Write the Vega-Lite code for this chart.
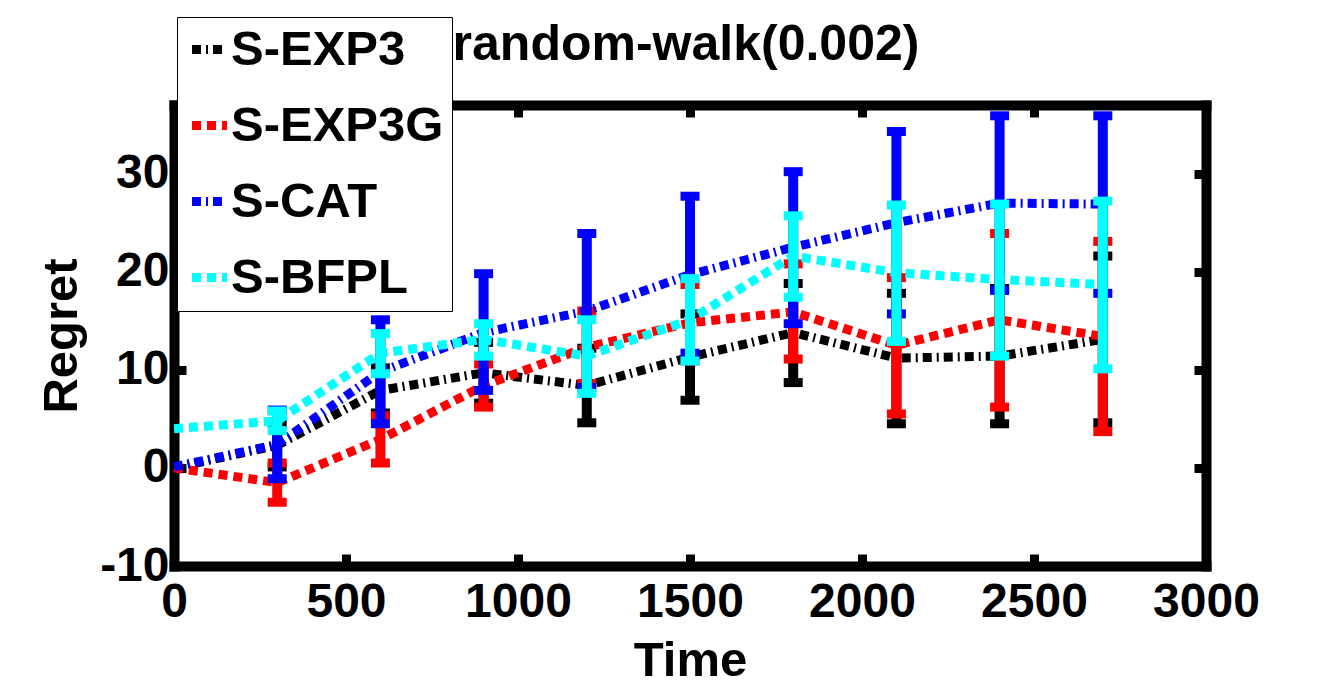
{
  "$schema": "https://vega.github.io/schema/vega-lite/v6.json",
  "width": 1032,
  "height": 461,
  "autosize": {"type": "none"},
  "padding": {"left": 174, "top": 105, "right": 127, "bottom": 123},
  "background": "white",
  "title": {"text": "random-walk(0.002)", "frame": "group", "anchor": "middle", "fontSize": 50, "font": "Liberation Sans", "fontWeight": "bold", "baseline": "alphabetic", "offset": 0, "dy": 93, "dx": -4, "color": "black"},
  "datasets": {
    "regret": [
      {"series": "S-EXP3", "time": 0, "regret": 0, "lo": null, "hi": null},
      {"series": "S-EXP3", "time": 300, "regret": 2.3, "lo": 0.1, "hi": 4.5},
      {"series": "S-EXP3", "time": 600, "regret": 7.9, "lo": 5.6, "hi": 10.2},
      {"series": "S-EXP3", "time": 900, "regret": 9.7, "lo": 6.6, "hi": 12.8},
      {"series": "S-EXP3", "time": 1200, "regret": 8.4, "lo": 4.6, "hi": 12.2},
      {"series": "S-EXP3", "time": 1500, "regret": 11.3, "lo": 6.9, "hi": 15.7},
      {"series": "S-EXP3", "time": 1800, "regret": 13.8, "lo": 8.7, "hi": 18.8},
      {"series": "S-EXP3", "time": 2100, "regret": 11.2, "lo": 4.5, "hi": 17.8},
      {"series": "S-EXP3", "time": 2400, "regret": 11.4, "lo": 4.5, "hi": 18.3},
      {"series": "S-EXP3", "time": 2700, "regret": 13.1, "lo": 4.6, "hi": 21.6},
      {"series": "S-EXP3G", "time": 0, "regret": 0, "lo": null, "hi": null},
      {"series": "S-EXP3G", "time": 300, "regret": -1.5, "lo": -3.5, "hi": 0.5},
      {"series": "S-EXP3G", "time": 600, "regret": 2.9, "lo": 0.5, "hi": 5.3},
      {"series": "S-EXP3G", "time": 900, "regret": 8.4, "lo": 6.2, "hi": 10.6},
      {"series": "S-EXP3G", "time": 1200, "regret": 12.3, "lo": 8.6, "hi": 16.0},
      {"series": "S-EXP3G", "time": 1500, "regret": 14.8, "lo": 10.9, "hi": 18.7},
      {"series": "S-EXP3G", "time": 1800, "regret": 15.9, "lo": 11.1, "hi": 20.8},
      {"series": "S-EXP3G", "time": 2100, "regret": 12.5, "lo": 5.5, "hi": 19.4},
      {"series": "S-EXP3G", "time": 2400, "regret": 15.1, "lo": 6.2, "hi": 23.9},
      {"series": "S-EXP3G", "time": 2700, "regret": 13.4, "lo": 3.7, "hi": 23.1},
      {"series": "S-CAT", "time": 0, "regret": 0.1, "lo": null, "hi": null},
      {"series": "S-CAT", "time": 300, "regret": 2.4, "lo": -1.1, "hi": 5.9},
      {"series": "S-CAT", "time": 600, "regret": 9.8, "lo": 4.5, "hi": 15.1},
      {"series": "S-CAT", "time": 900, "regret": 13.8, "lo": 7.9, "hi": 19.8},
      {"series": "S-CAT", "time": 1200, "regret": 16.0, "lo": 8.2, "hi": 23.9},
      {"series": "S-CAT", "time": 1500, "regret": 19.7, "lo": 11.7, "hi": 27.7},
      {"series": "S-CAT", "time": 1800, "regret": 22.5, "lo": 14.7, "hi": 30.2},
      {"series": "S-CAT", "time": 2100, "regret": 25.0, "lo": 15.7, "hi": 34.3},
      {"series": "S-CAT", "time": 2400, "regret": 27.0, "lo": 18.1, "hi": 35.9},
      {"series": "S-CAT", "time": 2700, "regret": 26.9, "lo": 17.8, "hi": 35.9},
      {"series": "S-BFPL", "time": 0, "regret": 4.0, "lo": null, "hi": null},
      {"series": "S-BFPL", "time": 300, "regret": 4.8, "lo": 3.8, "hi": 5.8},
      {"series": "S-BFPL", "time": 600, "regret": 11.7, "lo": 9.6, "hi": 13.7},
      {"series": "S-BFPL", "time": 900, "regret": 13.1, "lo": 11.4, "hi": 14.7},
      {"series": "S-BFPL", "time": 1200, "regret": 11.4, "lo": 7.6, "hi": 15.1},
      {"series": "S-BFPL", "time": 1500, "regret": 15.1, "lo": 10.9, "hi": 19.3},
      {"series": "S-BFPL", "time": 1800, "regret": 21.6, "lo": 17.4, "hi": 25.7},
      {"series": "S-BFPL", "time": 2100, "regret": 19.9, "lo": 12.9, "hi": 26.8},
      {"series": "S-BFPL", "time": 2400, "regret": 19.2, "lo": 11.4, "hi": 26.9},
      {"series": "S-BFPL", "time": 2700, "regret": 18.7, "lo": 10.1, "hi": 27.2}
    ]
  },
  "data": {"name": "regret"},
  "config": {
    "view": {"stroke": null},
    "axis": {
      "domainColor": "black", "domainWidth": 10, "domainCap": "square",
      "tickColor": "black", "tickWidth": 9, "tickSize": -12,
      "grid": false,
      "labelFont": "Liberation Sans", "labelFontWeight": "bold", "labelFontSize": 48, "labelColor": "black",
      "labelFlush": false, "labelOverlap": false,
      "labelExpr": "'' + datum.value",
      "titleFont": "Liberation Sans", "titleFontWeight": "bold", "titleFontSize": 49, "titleColor": "black"
    },
    "legend": {
      "symbolType": "stroke", "symbolSize": 1225, "symbolStrokeWidth": 9, "symbolOpacity": 1,
      "labelFont": "Liberation Sans", "labelFontWeight": "bold", "labelFontSize": 49, "labelColor": "black",
      "labelLimit": 500, "labelOffset": -3,
      "fillColor": "white", "strokeColor": "black", "padding": 8, "rowPadding": 26, "cornerRadius": 0
    }
  },
  "layer": [
    {
      "encoding": {
        "x": {"field": "time", "type": "quantitative", "scale": {"domain": [0, 3000], "nice": false, "zero": false},
              "axis": {"orient": "bottom", "values": [0, 500, 1000, 1500, 2000, 2500, 3000], "title": "Time", "labelPadding": 24, "titlePadding": 10}},
        "color": {"field": "series", "type": "nominal",
                  "scale": {"domain": ["S-EXP3", "S-EXP3G", "S-CAT", "S-BFPL"], "range": ["#000000", "#ff0000", "#0000ff", "#00ffff"]},
                  "legend": {"orient": "none", "legendX": 3, "legendY": -88, "title": null}}
      },
      "layer": [
        {"transform": [{"filter": "datum.series === 'S-EXP3'"}], "layer": [
          {"mark": {"type": "line", "strokeWidth": 9, "strokeCap": "butt", "opacity": 1},
           "encoding": {"y": {"field": "regret", "type": "quantitative", "scale": {"domain": [-10, 37], "nice": false, "zero": false},
                              "axis": {"orient": "left", "values": [-10, 0, 10, 20, 30], "title": "Regret", "labelPadding": 17, "titlePadding": 13}},
                        "strokeDash": {"field": "series", "type": "nominal", "scale": {"domain": ["S-EXP3", "S-EXP3G", "S-CAT", "S-BFPL"], "range": [[9, 5, 2, 5], [9, 6], [9, 5, 2, 5], [9, 6]]},
                                       "legend": {"orient": "none", "legendX": 3, "legendY": -88, "title": null}}}},
          {"transform": [{"filter": "isValid(datum.lo)"}], "mark": {"type": "rule", "strokeWidth": 10, "opacity": 1},
           "encoding": {"y": {"field": "lo", "type": "quantitative"}, "y2": {"field": "hi"}}},
          {"transform": [{"filter": "isValid(datum.lo)"}], "mark": {"type": "tick", "orient": "horizontal", "size": 19, "thickness": 9, "opacity": 1},
           "encoding": {"y": {"field": "lo", "type": "quantitative"}}},
          {"transform": [{"filter": "isValid(datum.hi)"}], "mark": {"type": "tick", "orient": "horizontal", "size": 19, "thickness": 9, "opacity": 1},
           "encoding": {"y": {"field": "hi", "type": "quantitative"}}}
        ]},
        {"transform": [{"filter": "datum.series === 'S-EXP3G'"}], "layer": [
          {"mark": {"type": "line", "strokeWidth": 9, "strokeCap": "butt", "opacity": 1},
           "encoding": {"y": {"field": "regret", "type": "quantitative"},
                        "strokeDash": {"field": "series", "type": "nominal"}}},
          {"transform": [{"filter": "isValid(datum.lo)"}], "mark": {"type": "rule", "strokeWidth": 10, "opacity": 1},
           "encoding": {"y": {"field": "lo", "type": "quantitative"}, "y2": {"field": "hi"}}},
          {"transform": [{"filter": "isValid(datum.lo)"}], "mark": {"type": "tick", "orient": "horizontal", "size": 19, "thickness": 9, "opacity": 1},
           "encoding": {"y": {"field": "lo", "type": "quantitative"}}},
          {"transform": [{"filter": "isValid(datum.hi)"}], "mark": {"type": "tick", "orient": "horizontal", "size": 19, "thickness": 9, "opacity": 1},
           "encoding": {"y": {"field": "hi", "type": "quantitative"}}}
        ]},
        {"transform": [{"filter": "datum.series === 'S-CAT'"}], "layer": [
          {"mark": {"type": "line", "strokeWidth": 9, "strokeCap": "butt", "opacity": 1},
           "encoding": {"y": {"field": "regret", "type": "quantitative"},
                        "strokeDash": {"field": "series", "type": "nominal"}}},
          {"transform": [{"filter": "isValid(datum.lo)"}], "mark": {"type": "rule", "strokeWidth": 10, "opacity": 1},
           "encoding": {"y": {"field": "lo", "type": "quantitative"}, "y2": {"field": "hi"}}},
          {"transform": [{"filter": "isValid(datum.lo)"}], "mark": {"type": "tick", "orient": "horizontal", "size": 19, "thickness": 9, "opacity": 1},
           "encoding": {"y": {"field": "lo", "type": "quantitative"}}},
          {"transform": [{"filter": "isValid(datum.hi)"}], "mark": {"type": "tick", "orient": "horizontal", "size": 19, "thickness": 9, "opacity": 1},
           "encoding": {"y": {"field": "hi", "type": "quantitative"}}}
        ]},
        {"transform": [{"filter": "datum.series === 'S-BFPL'"}], "layer": [
          {"mark": {"type": "line", "strokeWidth": 9, "strokeCap": "butt", "opacity": 1},
           "encoding": {"y": {"field": "regret", "type": "quantitative"},
                        "strokeDash": {"field": "series", "type": "nominal"}}},
          {"transform": [{"filter": "isValid(datum.lo)"}], "mark": {"type": "rule", "strokeWidth": 10, "opacity": 1},
           "encoding": {"y": {"field": "lo", "type": "quantitative"}, "y2": {"field": "hi"}}},
          {"transform": [{"filter": "isValid(datum.lo)"}], "mark": {"type": "tick", "orient": "horizontal", "size": 19, "thickness": 9, "opacity": 1},
           "encoding": {"y": {"field": "lo", "type": "quantitative"}}},
          {"transform": [{"filter": "isValid(datum.hi)"}], "mark": {"type": "tick", "orient": "horizontal", "size": 19, "thickness": 9, "opacity": 1},
           "encoding": {"y": {"field": "hi", "type": "quantitative"}}}
        ]}
      ]
    },
    {
      "mark": {"type": "point", "opacity": 0},
      "encoding": {
        "x": {"field": "time", "type": "quantitative", "scale": {"domain": [0, 3000], "nice": false, "zero": false},
              "axis": {"orient": "top", "values": [0, 500, 1000, 1500, 2000, 2500, 3000], "labels": false, "title": null}},
        "y": {"field": "regret", "type": "quantitative", "scale": {"domain": [-10, 37], "nice": false, "zero": false},
              "axis": {"orient": "right", "values": [-10, 0, 10, 20, 30], "labels": false, "title": null}}
      }
    }
  ],
  "resolve": {"axis": {"x": "independent", "y": "independent"}}
}
